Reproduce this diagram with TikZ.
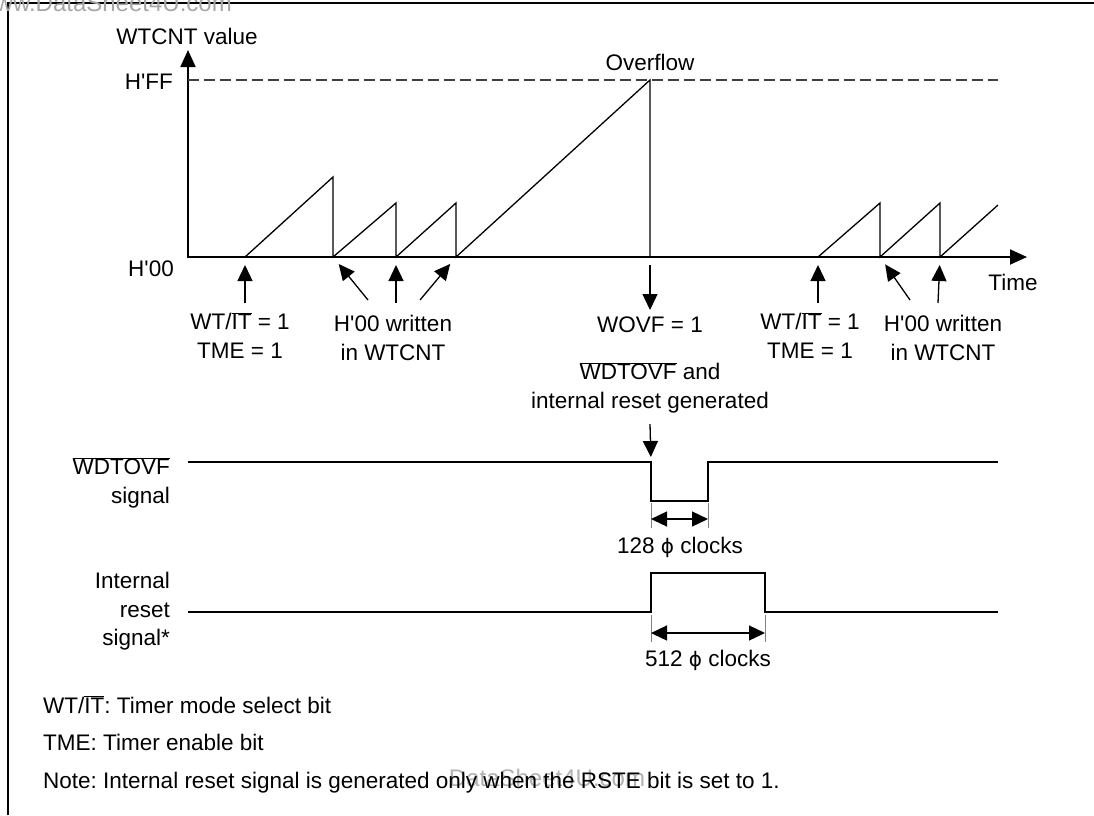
\documentclass[tikz,border=0pt]{standalone}
\usepackage{fontspec}
\setmainfont{Liberation Sans}
\newfontfamily\arialf{Liberation Sans}
\newfontfamily\dejavuf{DejaVu Sans}
\usetikzlibrary{arrows.meta}
\newcommand{\ovl}[1]{$\overline{\mbox{#1}}$}
\newcommand{\phiclk}{{\dejavuf\fontsize{20}{24}\selectfont ϕ}}
\tikzset{
  txt/.style={font=\arialf\fontsize{22.5}{29}\selectfont,inner sep=0pt,align=center},
  tip/.style={-{Triangle[length=16pt,width=15pt]}},
  axis/.style={line width=1.8pt,{Triangle[length=17pt,width=15pt]}-{Triangle[length=17pt,width=15pt]}},
  saw/.style={line width=1.3pt},
  ptr/.style={line width=1.3pt,tip},
  sig/.style={line width=1.5pt},
  dimln/.style={line width=1.3pt,{Triangle[length=16pt,width=15pt]}-{Triangle[length=16pt,width=15pt]}},
  ext/.style={line width=0.8pt,gray},
  wmark/.style={txt,text=gray!70}
}
\frenchspacing
\begin{document}
\begin{tikzpicture}[x=1pt,y=-1pt]
\useasboundingbox (0,0) rectangle (1094,815);
\draw[line width=1.6pt] (8,815) -- (8,3) -- (1094,3);
\node[wmark,anchor=base east,font=\arialf\fontsize{24}{29}\selectfont] (wm1) at (232,11) {www.DataSheet4U.com};
% counter axes
\coordinate (O) at (188,257); \coordinate (ytop) at (188,50); \coordinate (xend) at (1027,257);
\draw[axis] (ytop) -- (O) -- (xend);
\coordinate (ffL) at (188,80); \coordinate (ffR) at (998,80);
\draw[line width=1.2pt,black!75,dash pattern=on 11pt off 5pt] (ffL) -- (ffR);
\node[txt,anchor=base] (ylab) at (187,44) {WTCNT value};
\node[txt,anchor=base east] (hff) at (173,89) {H'FF};
\node[txt,anchor=base] (h00) at (151,276) {H'00};
\node[txt,anchor=base] (time) at (1013,290) {Time};
% sawtooth
\coordinate (s1) at (245,257); \coordinate (s2) at (333,257); \coordinate (s3) at (396,257);
\coordinate (s4) at (456,257); \coordinate (ov) at (650,257);
\coordinate (t1) at (818,257); \coordinate (t2) at (880,257); \coordinate (t3) at (940,257);
\draw[saw] (s1) -- (333,177) -- (s2) -- (396,203) -- (s3) -- (456,203) -- (s4) -- (650,80) -- (ov);
\draw[saw] (t1) -- (880,203) -- (t2) -- (940,203) -- (t3) -- (998,205);
\node[txt,anchor=base] (ovf) at (650,70) {Overflow};
% pointers
\coordinate (p1) at (245,303); \coordinate (p2) at (368,300); \coordinate (p3) at (396,303); \coordinate (p4) at (420,300);
\coordinate (p5) at (650,310); \coordinate (p6) at (818,303); \coordinate (p7) at (910,300); \coordinate (p8) at (938,303);
\draw[ptr,shorten >=8pt] (p1) -- (s1); \draw[ptr,shorten >=9pt] (p2) -- (s2);
\draw[ptr,shorten >=8pt] (p3) -- (s3); \draw[ptr,shorten >=9pt] (p4) -- (s4);
\draw[ptr,shorten <=8pt] (ov) -- (p5);
\draw[ptr,shorten >=8pt] (p6) -- (t1); \draw[ptr,shorten >=9pt] (p7) -- (t2); \draw[ptr,shorten >=8pt] (p8) -- (t3);
\node[txt,anchor=north] (wt1) at (240,312) {WT/\ovl{IT} = 1\\TME = 1};
\node[txt,anchor=north] (hw1) at (393,315) {H'00 written\\in WTCNT};
\node[txt,anchor=base] (wovf) at (650,332) {WOVF = 1};
\node[txt,anchor=north] (wt2) at (810,312) {WT/\ovl{IT} = 1\\TME = 1};
\node[txt,anchor=north] (hw2) at (943,315) {H'00 written\\in WTCNT};
\node[txt,anchor=north] (gen) at (650,362) {\ovl{WDTOVF} and\\internal reset generated};
\coordinate (g1) at (650,424); \coordinate (w1) at (651,462);
\draw[ptr,shorten >=5pt] (g1) -- (w1);
% output signals
\coordinate (w0) at (188,462); \coordinate (w2) at (708,462); \coordinate (w3) at (998,462);
\draw[sig] (w0) -- (w1) -- (651,501) -- (708,501) -- (w2) -- (w3);
\node[txt,anchor=north east,align=right] (wsig) at (170,457) {\ovl{WDTOVF}\\signal};
\coordinate (r0) at (188,612); \coordinate (r1) at (651,612); \coordinate (r2) at (765,612); \coordinate (r3) at (998,612);
\draw[sig] (r0) -- (r1) -- (651,573) -- (765,573) -- (r2) -- (r3);
\node[txt,anchor=north east,align=right,font=\arialf\fontsize{22.5}{28.5}\selectfont] (rsig) at (170,572) {Internal\\reset\\signal*};
% pulse widths
\coordinate (a1) at (651,519); \coordinate (a2) at (708,519);
\draw[ext] (651,503) -- (651,528); \draw[ext] (708,503) -- (708,528);
\draw[dimln] (a1) -- (a2);
\node[txt,anchor=base] (c128) at (680,553) {128 \phiclk{} clocks};
\coordinate (b1) at (651,633); \coordinate (b2) at (765,633);
\draw[ext] (651,615) -- (651,642); \draw[ext] (765,615) -- (765,642);
\draw[dimln] (b1) -- (b2);
\node[txt,anchor=base] (c512) at (708,666) {512 \phiclk{} clocks};
% notes
\node[txt,anchor=base west] (n1) at (43,713) {WT/\ovl{IT}: Timer mode select bit};
\node[txt,anchor=base west] (n2) at (43,750) {TME: Timer enable bit};
\node[wmark,text=gray!60,anchor=base,font=\arialf\fontsize{24}{29}\selectfont] (wm2) at (547,786) {DataSheet4U.com};
\node[txt,anchor=base west] (n3) at (43,788) {Note: Internal reset signal is generated only when the RSTE bit is set to 1.};
\end{tikzpicture}
\end{document}
